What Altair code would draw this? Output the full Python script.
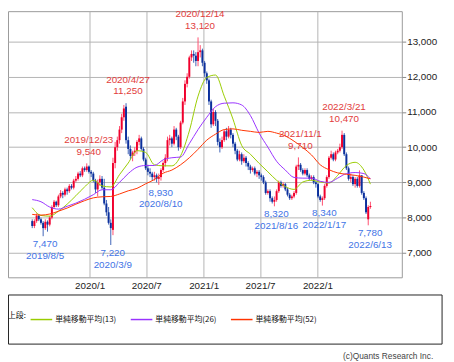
import altair as alt
import pandas as pd

# ---------------- data (weekly candles) ----------------
start_week = "2019-07-01"

opens = [
    7900, 7760, 7900, 8050, 7950, 7850, 7700, 7880, 7800, 8000,
    8300, 8450, 8350, 8600, 8700, 8650, 8800, 8750, 8900, 8850,
    9050, 9100, 9250, 9200, 9400, 9350, 9450, 9300, 9250, 9050,
    8800, 9000, 9100, 8850, 8400, 8150, 7850, 7650, 9550, 10000,
    10200, 10500, 10850, 11150, 10200, 9950, 9750, 9850, 9900, 10150,
    10250, 9950, 9650, 9400, 9300, 9250, 9150, 9200, 9100, 9150,
    9350, 9550, 9700, 10200, 10250, 10100, 10500, 10300, 10000, 10700,
    11300, 11800, 12000, 12550, 12650, 12600, 12450, 12700, 12750, 12400,
    12100, 11900, 11300, 10650, 11000, 10750, 10150, 10000, 10200, 10450,
    10300, 10500, 10350, 10100, 9900, 9650, 9800, 9600, 9700, 9550,
    9450, 9350, 9400, 9250, 9300, 9200, 9150, 9000, 8700, 8750,
    8550, 8450, 8500, 8750, 9000, 8900, 8950, 8800, 8650, 8550,
    8600, 8700, 9450, 9500, 9350, 9250, 9350, 9200, 9100, 9150,
    9000, 8950, 8600, 8500, 8550, 8900, 9150, 9700, 9800, 9650,
    9850, 9900, 10000, 10350, 9800, 9400, 9100, 9150, 8950, 9100,
    8900, 9200, 8700, 8550, 7950, 8300,
]
highs = [
    7950, 7950, 8120, 8100, 8000, 7900, 7950, 7920, 8050, 8350,
    8500, 8480, 8650, 8780, 8750, 8850, 8850, 8950, 8950, 9100,
    9180, 9300, 9320, 9450, 9450, 9540, 9480, 9350, 9300, 9100,
    9080, 9200, 9180, 9100, 8500, 8300, 7950, 9700, 10150, 10300,
    10600, 10950, 11200, 11250, 10300, 10050, 9900, 10000, 10200, 10350,
    10300, 10000, 9700, 9500, 9400, 9300, 9300, 9250, 9250, 9400,
    9600, 9800, 10300, 10350, 10300, 10600, 10550, 10350, 10750, 11400,
    11900, 12100, 12600, 12750, 12750, 12700, 13120, 12900, 12800, 12450,
    12150, 11950, 11350, 11100, 11050, 10800, 10250, 10300, 10500, 10550,
    10600, 10550, 10400, 10150, 9950, 9900, 9850, 9800, 9750, 9600,
    9500, 9450, 9450, 9350, 9350, 9250, 9200, 9050, 8800, 8800,
    8600, 8600, 8800, 9050, 9050, 9000, 8980, 8850, 8700, 8650,
    8750, 9500, 9710, 9550, 9400, 9400, 9400, 9250, 9200, 9200,
    9050, 8980, 8650, 8600, 8950, 9200, 9750, 9900, 9850, 9900,
    9950, 10100, 10470, 10400, 9850, 9450, 9250, 9200, 9150, 9150,
    9340, 9200, 8750, 8600, 8350, 8450,
]
lows = [
    7700, 7700, 7850, 7900, 7800, 7470, 7650, 7600, 7750, 7950,
    8250, 8300, 8300, 8550, 8550, 8600, 8650, 8700, 8800, 8800,
    9000, 9050, 9150, 9150, 9300, 9300, 9250, 9150, 9000, 8700,
    8600, 8900, 8800, 8350, 8050, 7800, 7220, 7500, 9400, 9900,
    10100, 10400, 10750, 10100, 9800, 9650, 9600, 9750, 9800, 10050,
    9900, 9600, 9350, 9200, 9150, 9050, 9050, 9000, 8930, 9050,
    9300, 9450, 9600, 10050, 10000, 10050, 10200, 9900, 9950, 10650,
    11200, 11700, 11950, 12450, 12400, 12300, 12300, 12550, 12300, 12000,
    11800, 11200, 10550, 10600, 10600, 10050, 9850, 9950, 10150, 10200,
    10250, 10250, 10000, 9800, 9600, 9600, 9500, 9550, 9450, 9350,
    9250, 9300, 9200, 9150, 9100, 9050, 8950, 8650, 8650, 8450,
    8400, 8320, 8450, 8700, 8850, 8850, 8750, 8600, 8500, 8500,
    8550, 8650, 9350, 9300, 9200, 9200, 9150, 9050, 9050, 8950,
    8850, 8550, 8450, 8340, 8500, 8850, 9100, 9650, 9600, 9600,
    9800, 9850, 9950, 9750, 9350, 9050, 9000, 8900, 8850, 8850,
    8850, 8650, 8500, 8100, 7780, 8250,
]
closes = [
    7760, 7900, 8050, 7950, 7850, 7700, 7880, 7800, 8000, 8300,
    8450, 8350, 8600, 8700, 8650, 8800, 8750, 8900, 8850, 9050,
    9100, 9250, 9200, 9400, 9350, 9450, 9300, 9250, 9050, 8800,
    9000, 9100, 8850, 8400, 8150, 7850, 7700, 9550, 10000, 10200,
    10500, 10850, 11100, 10200, 9950, 9750, 9850, 9900, 10150, 10250,
    9950, 9650, 9400, 9300, 9250, 9150, 9200, 9100, 9150, 9350,
    9550, 9700, 10200, 10250, 10100, 10500, 10300, 10000, 10700, 11300,
    11800, 12000, 12550, 12650, 12600, 12450, 12700, 12750, 12400, 12100,
    11900, 11300, 10650, 11000, 10750, 10150, 10000, 10200, 10450, 10300,
    10500, 10350, 10100, 9900, 9650, 9800, 9600, 9700, 9550, 9450,
    9350, 9400, 9250, 9300, 9200, 9150, 9000, 8700, 8750, 8550,
    8450, 8500, 8750, 9000, 8900, 8950, 8800, 8650, 8550, 8600,
    8700, 9450, 9500, 9350, 9250, 9350, 9200, 9100, 9150, 9000,
    8950, 8600, 8500, 8550, 8900, 9150, 9700, 9800, 9650, 9850,
    9900, 10000, 10350, 9800, 9400, 9100, 9150, 8950, 9100, 8900,
    9200, 8700, 8550, 8150, 8300, 8330,
]

# moving averages, read every 4th week
ma_weeks = list(range(0, 156, 4)) + [155]
ma13 = [8280, 8060, 8040, 8180, 8380, 8620, 8870, 9060, 8900, 8870,
        9220, 9550, 9900, 9850, 9500, 9470, 9470, 9750, 10460, 11450,
        11980, 12050, 11450, 10800, 10050, 9800, 9540, 9300, 9060, 8880,
        8800, 9010, 9060, 9010, 8980, 9200, 9480, 9570, 9350, 8950]
ma26 = [8510, 8450, 8300, 8240, 8320, 8410, 8520, 8650, 8790, 8790,
        9000, 9250, 9430, 9480, 9480, 9640, 9700, 9720, 10100, 10500,
        10850, 11150, 11250, 11260, 11200, 10900, 10400, 10000, 9600, 9350,
        9140, 9120, 9120, 9030, 9000, 9120, 9250, 9280, 9250, 9100]
ma52 = [8090, 8070, 8100, 8180, 8270, 8380, 8480, 8560, 8590, 8600,
        8670, 8760, 8830, 8960, 9080, 9260, 9350, 9500, 9700, 9940,
        10200, 10370, 10500, 10520, 10480, 10450, 10420, 10450, 10400, 10320,
        10170, 9990, 9780, 9500, 9360, 9270, 9230, 9200, 9150, 9100]
ma_names = ["単純移動平均(13)", "単純移動平均(26)", "単純移動平均(52)"]
ma_colors = ["#99cc00", "#9933ff", "#ff3300"]

peak_dates = ["2019-12-23", "2020-04-27", "2020-12-14", "2021-11-01", "2022-03-21"]
peak_values = [9540, 11250, 13120, 9710, 10470]
trough_dates = ["2019-08-05", "2020-03-09", "2020-08-10", "2021-08-16", "2022-01-17", "2022-06-13"]
trough_values = [7470, 7220, 8930, 8320, 8340, 7780]

y_ticks = [7000, 8000, 9000, 10000, 11000, 12000, 13000]
x_ticks = [(2020, 1), (2020, 7), (2021, 1), (2021, 7), (2022, 1)]
copyright_text = "(c)Quants Research Inc."

# ---------------- styling ----------------
RED = "#f0002d"
BLUE = "#0b2f9c"
RED_WICK = "#ff4d6d"
BLUE_WICK = "#3f63b8"
HI_TEXT = "#e23c3c"
LO_TEXT = "#3f74e6"
FONT = "Liberation Sans"
CJK = "Noto Sans CJK JP"

dates = pd.date_range(start_week, periods=len(closes), freq="7D")
candles = pd.DataFrame({"date": dates, "open": opens, "high": highs,
                        "low": lows, "close": closes})

ma_rows = []
for name, vals in zip(ma_names, [ma13, ma26, ma52]):
    for w, v in zip(ma_weeks, vals):
        ma_rows.append({"date": dates[w], "value": v, "series": name})
ma_df = pd.DataFrame(ma_rows)

peaks = pd.DataFrame({"date": pd.to_datetime(peak_dates), "value": peak_values})
troughs = pd.DataFrame({"date": pd.to_datetime(trough_dates), "value": trough_values})

x_scale = alt.Scale(domain=[alt.DateTime(year=2019, month=4, date=30),
                            alt.DateTime(year=2022, month=9, date=13)])
y_scale = alt.Scale(domain=[6302, 13865], zero=False, nice=False)

x_axis = alt.Axis(values=[alt.DateTime(year=y, month=m, date=1) for y, m in x_ticks],
                  format="%Y/%-m", ticks=False, labelPadding=3, grid=True,
                  domain=False, title=None)
y_axis = alt.Axis(orient="right", values=y_ticks, format=",d", tickSize=4,
                  labelPadding=1, grid=True, domain=False, title=None)

X = alt.X("date:T", scale=x_scale, axis=x_axis)
Y = alt.Y("value:Q", scale=y_scale, axis=y_axis)

up_body = alt.condition("datum.close >= datum.open", alt.value(RED), alt.value(BLUE))
up_wick = alt.condition("datum.close >= datum.open", alt.value(RED_WICK), alt.value(BLUE_WICK))

box = alt.Chart(pd.DataFrame({"k": [0]})).mark_rect(
    fillOpacity=0, stroke="#222", strokeWidth=1).encode(
    x=alt.value(0.5), x2=alt.value(442), y=alt.value(289), y2=alt.value(339))

wicks = alt.Chart(candles).mark_rule(strokeWidth=1).encode(
    x=alt.X("date:T", scale=x_scale, axis=x_axis),
    y=alt.Y("low:Q", scale=y_scale, axis=y_axis), y2="high:Q", color=up_wick)

bodies = alt.Chart(candles).mark_bar(size=2).encode(
    x=alt.X("date:T", scale=x_scale, axis=x_axis),
    y=alt.Y("open:Q", scale=y_scale, axis=y_axis), y2="close:Q", color=up_body)

lines = alt.Chart(ma_df).mark_line(strokeWidth=1, interpolate="monotone").encode(
    x=X, y=Y,
    color=alt.Color("series:N", scale=alt.Scale(domain=ma_names, range=ma_colors),
                    legend=alt.Legend(title="上段:", orient="none", legendX=0, legendY=302,
                                      direction="horizontal", titleOrient="left",
                                      titleFont=CJK, titleFontSize=8, titleFontWeight="normal",
                                      titleColor="#111", titlePadding=3,
                                      labelFont=CJK, labelFontSize=8, labelColor="#111",
                                      labelOffset=2, symbolType="stroke", symbolSize=484,
                                      symbolStrokeWidth=1.5, columnPadding=11)))

def label(df, text, dy, color, fmt):
    return alt.Chart(df).mark_text(dy=dy, dx=2, baseline="middle", align="center",
                                   font=FONT, fontSize=10, color=color).encode(
        x=X, y=Y, text=alt.Text(text, format=fmt))

hi_date = label(peaks, "date:T", -24, HI_TEXT, "%Y/%-m/%-d")
hi_val = label(peaks, "value:Q", -12, HI_TEXT, ",")
lo_val = label(troughs, "value:Q", 8, LO_TEXT, ",")
lo_date = label(troughs, "date:T", 20, LO_TEXT, "%Y/%-m/%-d")

credit = alt.Chart(pd.DataFrame({"t": [copyright_text]})).mark_text(
    align="right", baseline="middle", font=FONT, fontSize=8.5, color="#444").encode(
    x=alt.value(433), y=alt.value(351), text="t:N")

chart = alt.layer(box, wicks, bodies, lines, hi_date, hi_val, lo_val, lo_date, credit).properties(
    width=401, height=271,
    padding={"left": 0, "top": 0, "right": 45, "bottom": 83},
    autosize=alt.AutoSizeParams(type="none"),
).configure_view(stroke="#999", strokeWidth=1).configure_axis(
    labelFont=FONT, labelFontSize=10, labelColor="#222",
    gridColor="#b4b4b4", gridWidth=1, tickColor="#888")

chart.save("out.html", embed_options={"renderer": "svg", "actions": False})
